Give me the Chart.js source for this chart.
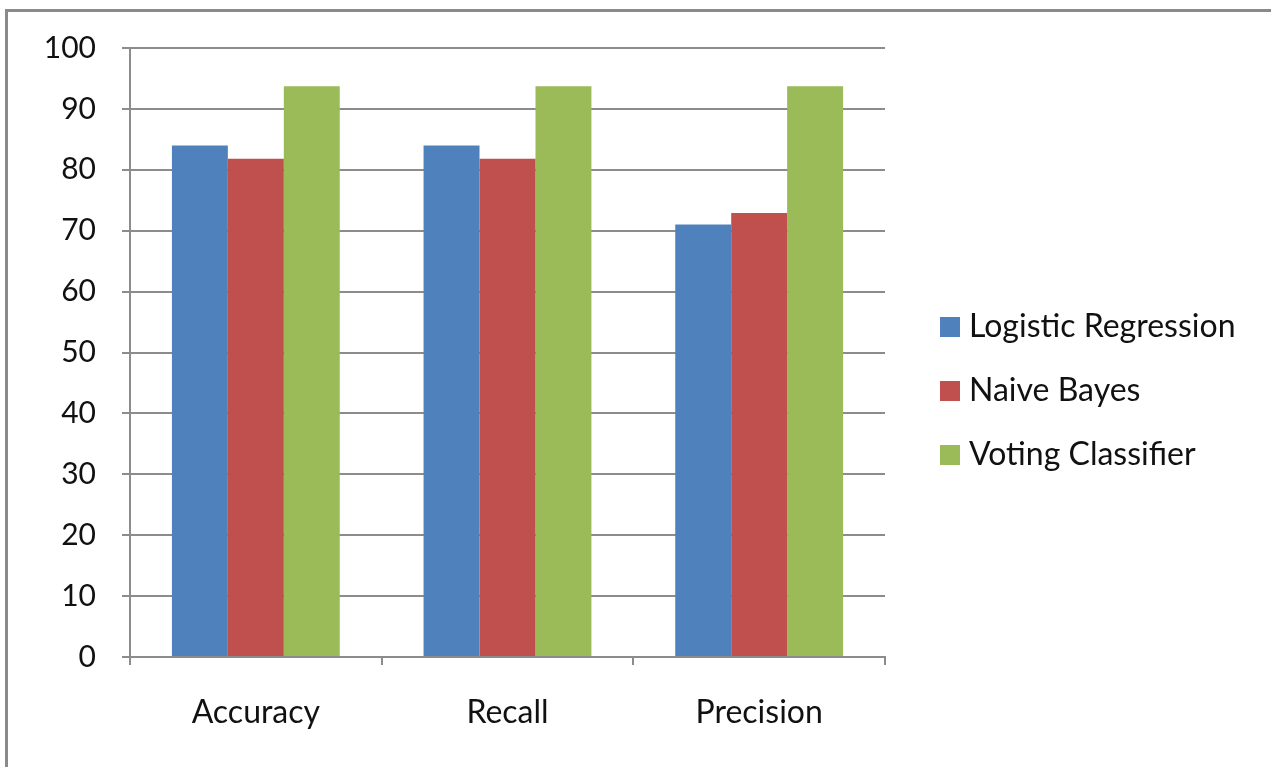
<!DOCTYPE html>
<html>
<head>
<meta charset="utf-8">
<script src="https://cdn.jsdelivr.net/npm/chart.js@4/dist/chart.umd.min.js"></script>
<style>
  html, body { margin: 0; padding: 0; background: #fff; overflow: hidden; }
  #frame {
    position: absolute; left: 5px; top: 9px; width: 1400px; height: 900px;
    border-left: 3px solid #8a8a8a; border-top: 3px solid #8a8a8a;
  }
  #reportChart { position: absolute; left: 0; top: 0; }
</style>
</head>
<body>
<div id="frame"></div>
<canvas id="reportChart" width="1271" height="767"></canvas>
<script>
// data
const categories = ['Accuracy', 'Recall', 'Precision'];
const logisticRegression = [84, 84, 71];
const naiveBayes = [81.8, 81.8, 72.9];
const votingClassifier = [93.7, 93.7, 93.7];
const seriesNames = ['Logistic Regression', 'Naive Bayes', 'Voting Classifier'];
const seriesColors = ['#4f81bd', '#c0504d', '#9bbb59'];
const yTicks = [0, 10, 20, 30, 40, 50, 60, 70, 80, 90, 100];

const FONT = 'Lato, "DejaVu Sans", sans-serif';
const gridColor = '#8c8c8c';

// legend drawn at the right like the office chart
const sideLegend = {
    id: 'sideLegend',
    afterDraw(chart) {
        const ctx = chart.ctx;
        ctx.save();
        ctx.font = '32px ' + FONT;
        ctx.textBaseline = 'middle';
        chart.data.datasets.forEach((ds, i) => {
            const cy = 327 + i * 64;
            ctx.fillStyle = ds.backgroundColor;
            ctx.fillRect(940, cy - 10, 20, 20);
            ctx.fillStyle = '#111';
            ctx.fillText(ds.label, 969, cy);
        });
        ctx.restore();
    }
};

const seriesData = [logisticRegression, naiveBayes, votingClassifier];

new Chart(document.getElementById('reportChart').getContext('2d'), {
    type: 'bar',
    data: {
        labels: categories,
        datasets: seriesNames.map((name, i) => ({
            label: name,
            data: seriesData[i],
            backgroundColor: seriesColors[i],
            borderWidth: 0,
            barPercentage: 1.0,
            categoryPercentage: 0.667
        }))
    },
    options: {
        responsive: false,
        animation: false,
        layout: { padding: { left: 0, right: 386, top: 48, bottom: 0 } },
        plugins: {
            legend: { display: false },
            tooltip: { enabled: false }
        },
        scales: {
            x: {
                grid: { display: true, offset: true, drawOnChartArea: false, drawTicks: true, tickLength: 8, color: gridColor, lineWidth: 2 },
                border: { display: true, color: gridColor, width: 2 },
                ticks: { font: { family: FONT, size: 32 }, color: '#111', padding: 28 },
                afterFit: s => { s.height = 110; }
            },
            y: {
                min: 0,
                max: 100,
                afterBuildTicks: s => { s.ticks = yTicks.map(v => ({ value: v })); },
                grid: { color: gridColor, lineWidth: 2, tickLength: 8 },
                border: { display: true, color: gridColor, width: 2 },
                ticks: { font: { family: FONT, size: 30 }, color: '#111', padding: 26 },
                afterFit: s => { s.width = 130; }
            }
        }
    },
    plugins: [sideLegend]
});
</script>
</body>
</html>
